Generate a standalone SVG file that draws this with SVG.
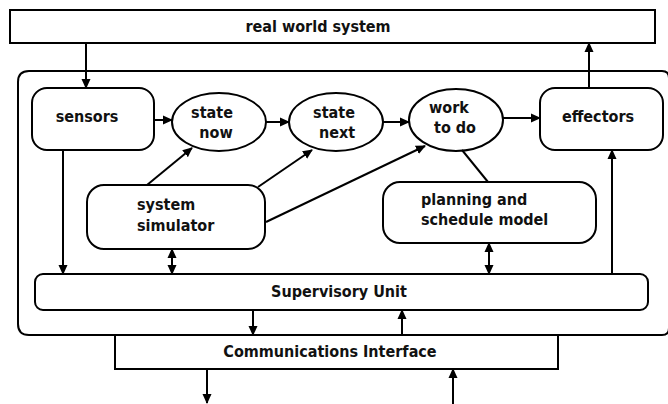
<svg xmlns="http://www.w3.org/2000/svg" width="668" height="404" viewBox="0 0 668 404">
  <defs>
    <marker id="head" markerUnits="userSpaceOnUse" markerWidth="10" markerHeight="10" refX="9" refY="5" orient="auto-start-reverse">
      <path d="M0,0.5 L10,5 L0,9.5 z" fill="#000"/>
    </marker>
    <style>
      .box { fill: #fff; stroke: #000; stroke-width: 2; }
      .frame { fill: none; stroke: #000; stroke-width: 2; }
      .wire { fill: none; stroke: #000; stroke-width: 2; }
      .arrow { fill: none; stroke: #000; stroke-width: 2; marker-end: url(#head); }
      .both { fill: none; stroke: #000; stroke-width: 2; marker-start: url(#head); marker-end: url(#head); }
      text { font-family: "DejaVu Sans Condensed", "DejaVu Sans", sans-serif; font-stretch: condensed; font-weight: bold; font-size: 16px; fill: #111; }
      .c { text-anchor: middle; }
    </style>
  </defs>

  <rect width="668" height="404" fill="#fff"/>

  <!-- outer frame of the controller; its right side runs along the page edge -->
  <path id="controller" class="frame" d="M29,71 H662 Q669,71 669,78 V328 Q669,335 662,335 H29 Q18,335 18,324 V82 Q18,71 29,71 Z"/>

  <g id="real-world">
    <rect class="box" x="10" y="10" width="645" height="33"/>
    <text class="c" x="318" y="32">real world system</text>
  </g>

  <g id="sensors">
    <rect class="box" x="32" y="88" width="122" height="62" rx="15"/>
    <text class="c" x="87" y="122">sensors</text>
  </g>

  <g id="state-now">
    <ellipse class="box" cx="219" cy="122" rx="47" ry="29"/>
    <text class="c" x="212" y="118">state</text>
    <text class="c" x="216" y="138">now</text>
  </g>

  <g id="state-next">
    <ellipse class="box" cx="336" cy="122" rx="47" ry="29"/>
    <text class="c" x="334" y="118">state</text>
    <text class="c" x="337" y="138">next</text>
  </g>

  <g id="work-to-do">
    <ellipse class="box" cx="456" cy="120" rx="47" ry="31"/>
    <text class="c" x="449" y="113">work</text>
    <text class="c" x="455" y="133">to do</text>
  </g>

  <g id="effectors">
    <rect class="box" x="540" y="88" width="123" height="62" rx="15"/>
    <text class="c" x="598" y="122">effectors</text>
  </g>

  <g id="system-simulator">
    <rect class="box" x="87" y="185" width="178" height="64" rx="17"/>
    <text x="137" y="210">system</text>
    <text x="137" y="231">simulator</text>
  </g>

  <g id="planning-model">
    <rect class="box" x="383" y="182" width="213" height="61" rx="17"/>
    <text x="421" y="205">planning and</text>
    <text x="421" y="225">schedule model</text>
  </g>

  <g id="supervisory-unit">
    <rect class="box" x="35" y="274" width="613" height="36" rx="8"/>
    <text class="c" x="339" y="297">Supervisory Unit</text>
  </g>

  <g id="communications-interface">
    <rect class="box" x="115" y="335" width="443" height="34"/>
    <text class="c" x="330" y="357">Communications Interface</text>
  </g>

  <g id="connectors">
    <!-- outside world -->
    <line class="arrow" x1="86" y1="43" x2="86" y2="88"/>
    <line class="arrow" x1="589" y1="88" x2="589" y2="43"/>
    <!-- main chain -->
    <line class="arrow" x1="154" y1="120" x2="172" y2="120"/>
    <line class="arrow" x1="266" y1="122" x2="289" y2="122"/>
    <line class="arrow" x1="383" y1="122" x2="409" y2="122"/>
    <line class="arrow" x1="503" y1="118" x2="540" y2="118"/>
    <!-- simulator feeds -->
    <line class="arrow" x1="147" y1="185" x2="192" y2="148"/>
    <line class="arrow" x1="258" y1="187" x2="312" y2="150"/>
    <line class="arrow" x1="266" y1="222" x2="425" y2="146"/>
    <line class="wire" x1="462" y1="150" x2="488" y2="182"/>
    <!-- supervisory links -->
    <line class="arrow" x1="63" y1="150" x2="63" y2="274"/>
    <line class="both" x1="172" y1="249" x2="172" y2="274"/>
    <line class="both" x1="489" y1="243" x2="489" y2="274"/>
    <line class="arrow" x1="612" y1="274" x2="612" y2="150"/>
    <line class="arrow" x1="253" y1="310" x2="253" y2="335"/>
    <line class="arrow" x1="402" y1="335" x2="402" y2="310"/>
    <!-- communications -->
    <line class="arrow" x1="207" y1="369" x2="207" y2="403"/>
    <line class="arrow" x1="453" y1="404" x2="453" y2="369"/>
  </g>
</svg>
